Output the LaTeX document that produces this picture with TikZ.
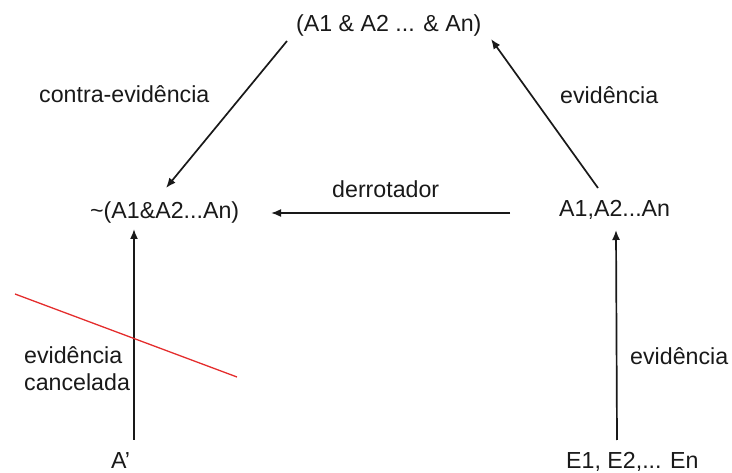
\documentclass[tikz,border=0pt]{standalone}
\usepackage{fontspec}
\setmainfont{Liberation Sans}
\usetikzlibrary{arrows.meta,calc}
\definecolor{ink}{RGB}{25,25,25}
\definecolor{cancelred}{RGB}{228,45,45}
\begin{document}
\begin{tikzpicture}[x=1pt,y=-1pt,
  lbl/.style={inner sep=0pt,anchor=base west,text=ink,font=\fontsize{23.2}{27}\selectfont},
  conn/.style={draw=ink,line width=1.7pt,-{Latex[length=10pt,width=8pt]}}]
\useasboundingbox (0,0) rectangle (732,473);
\node[lbl] (top) at (296,32) {(A1 \& A2 ... \& An)};
\node[lbl] (contra) at (39,103) {contra-evidência};
\node[lbl] (evtop) at (560,104) {evidência};
\node[lbl] (neg) at (90,219) {\~{}(A1\&A2...An)};
\node[lbl] (derr) at (332,198) {derrotador};
\node[lbl] (aa) at (559,217) {A1,A2...An};
\node[lbl,align=left] (canc) at (24,391) {evidência\\cancelada};
\node[lbl] (evbot) at (630,365) {evidência};
\node[lbl] (ap) at (111,468) {A’};
\node[lbl] (ee) at (566,468) {E1, E2,... En};
\draw[conn] ($(top.base west)+(-9,9)$) -- ($(neg.base west)+(76,-31)$);
\draw[conn] ($(aa.base west)+(39,-29)$) -- ($(top.base west)+(195,7)$);
\draw[conn] ($(aa.base west)+(-49,-4)$) -- ($(neg.base west)+(181,-6)$);
\draw[conn] ($(ap.base west)+(23,-28)$) -- ($(neg.base west)+(44,10)$);
\draw[conn] ($(ee.base west)+(51,-28)$) -- ($(aa.base west)+(57,13)$);
\coordinate (r1) at (15,294);
\coordinate (r2) at (237,377);
\draw[cancelred,line width=1.3pt] (r1) -- (r2);
\end{tikzpicture}
\end{document}
